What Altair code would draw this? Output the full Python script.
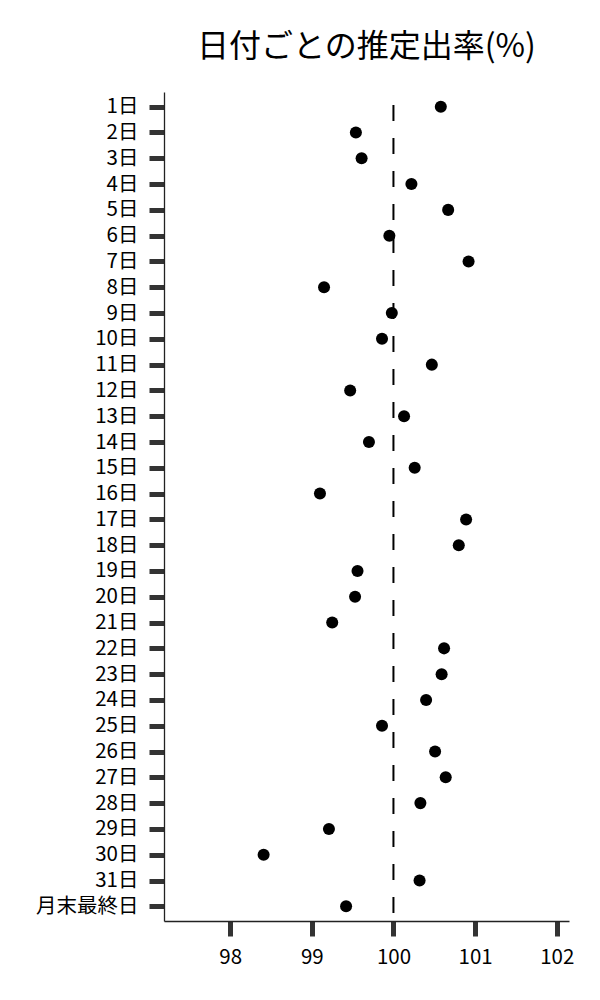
import altair as alt
import pandas as pd

days = [f"{i}日" for i in range(1, 32)] + ["月末最終日"]
rates = [100.58, 99.54, 99.61, 100.22, 100.67, 99.95, 100.92, 99.15, 99.98, 99.86,
         100.47, 99.47, 100.13, 99.70, 100.26, 99.10, 100.89, 100.80, 99.56, 99.53,
         99.25, 100.62, 100.59, 100.40, 99.86, 100.51, 100.64, 100.33, 99.21, 98.41,
         100.32, 99.42]
x_ticks = [98, 99, 100, 101, 102]
ref_value = [100]

df = pd.DataFrame({"day": days, "rate": rates})
ref = pd.DataFrame({"v": ref_value})

FONT = "Noto Sans CJK JP"
W, H = 405, 829

x_scale = alt.Scale(domain=[97.19, 102.15], nice=False, zero=False)

points = alt.Chart(df).mark_circle(size=145, color="black", opacity=1).encode(
    x=alt.X("rate:Q", scale=x_scale,
            axis=alt.Axis(values=x_ticks, title=None, grid=False, format="d",
                          tickSize=15, tickWidth=5, tickColor="#333333",
                          domainColor="#222222", domainWidth=1.3,
                          labelFontSize=20.5, labelFont=FONT, labelColor="black",
                          labelPadding=11)),
    y=alt.Y("day:N", sort=days, scale=alt.Scale(type="point", padding=0.57),
            axis=alt.Axis(title=None, grid=False,
                          tickSize=15, tickWidth=5, tickColor="#333333",
                          domainColor="#222222", domainWidth=1.3,
                          labelFontSize=20.5, labelFont=FONT, labelColor="black",
                          labelPadding=11)),
)

rule = alt.Chart(ref).mark_rule(color="black", strokeWidth=2, strokeDash=[16, 17]).encode(
    x=alt.X("v:Q", scale=x_scale),
    y=alt.value(13),
    y2=alt.value(H),
)

chart = alt.layer(rule, points).properties(
    width=W, height=H,
    background="white",
    title=alt.TitleParams("日付ごとの推定出率(%)", font=FONT, fontSize=32,
                          fontWeight="normal", color="black", anchor="middle", offset=28),
    autosize=alt.AutoSizeParams(type="none"),
    padding={"left": 156, "top": 84, "right": 20, "bottom": 60},
).configure_view(strokeWidth=0, stroke="transparent")

chart.save("out.html", embed_options={"renderer": "svg", "actions": False})
